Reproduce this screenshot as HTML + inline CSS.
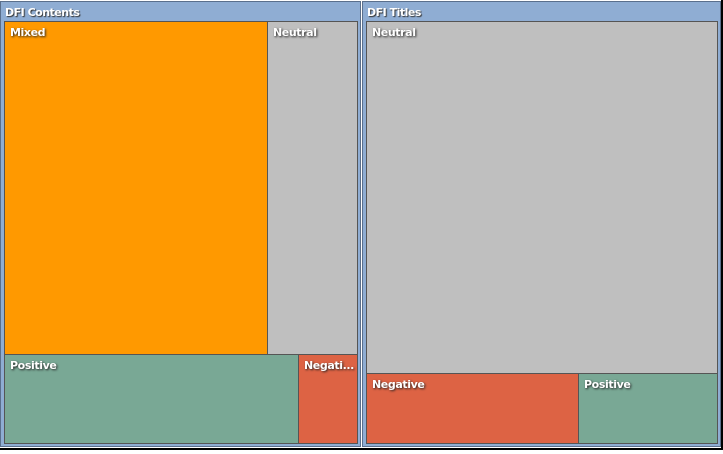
<!DOCTYPE html>
<html><head><style>
body{margin:0;width:723px;height:454px;background:#fff;position:relative;overflow:hidden;font-family:"DejaVu Sans","Liberation Sans",sans-serif;}
div{position:absolute;box-sizing:border-box;}
.p{background:#8fadd3;border:1px solid #5a6f8c;}
.h{color:#fff;font-size:11px;font-weight:bold;text-shadow:1px 1px 1px #333;letter-spacing:-0.5px;}
.t{border:1px solid #555;}
.t span{position:absolute;left:5px;top:4px;color:#fff;font-size:11px;font-weight:bold;text-shadow:1px 1px 2px #222;letter-spacing:-0.4px;}
</style></head><body>
<div style="left:0;top:448px;width:723px;height:2px;background:#000"></div>
<div style="left:721px;top:0;width:2px;height:450px;background:#000"></div>
<div class="p" style="left:0;top:1px;width:361px;height:446px"></div>
<div class="p" style="left:362px;top:1px;width:359px;height:446px"></div>
<div class="h" style="left:5px;top:6px">DFI Contents</div>
<div class="h" style="left:367px;top:6px">DFI Titles</div>
<div class="t" style="left:4px;top:21px;width:264px;height:334px;background:#ff9900"><span>Mixed</span></div>
<div class="t" style="left:267px;top:21px;width:91px;height:334px;background:#bfbfbf"><span>Neutral</span></div>
<div class="t" style="left:4px;top:354px;width:295px;height:90px;background:#79a895"><span>Positive</span></div>
<div class="t" style="left:298px;top:354px;width:60px;height:90px;background:#dd6344"><span>Negati...</span></div>
<div class="t" style="left:366px;top:21px;width:352px;height:353px;background:#bfbfbf"><span>Neutral</span></div>
<div class="t" style="left:366px;top:373px;width:213px;height:71px;background:#dd6344"><span>Negative</span></div>
<div class="t" style="left:578px;top:373px;width:140px;height:71px;background:#79a895"><span>Positive</span></div>
</body></html>
